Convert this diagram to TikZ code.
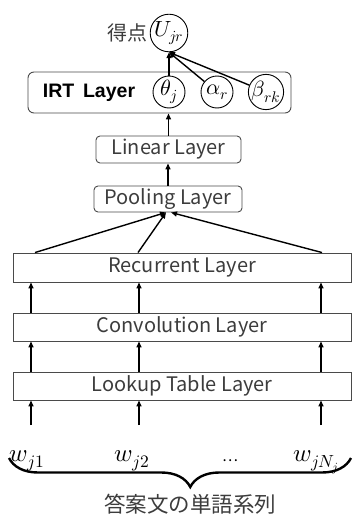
\documentclass[tikz,border=0pt]{standalone}
\usepackage{fontspec}
\usepackage{unicode-math}
\setmathfont{Latin Modern Math}
\newfontfamily\jpfont{Noto Sans CJK JP}
\newfontfamily\irtfont{Liberation Sans}
\usetikzlibrary{arrows.meta,decorations.pathreplacing}
\definecolor{txtgray}{HTML}{3C3C3C}
\definecolor{boxgray}{HTML}{4A4A4A}
\tikzset{
  layerbox/.style={draw=boxgray, line width=0.9pt, inner sep=0pt,
    font=\jpfont\fontsize{20}{24}\selectfont, text=txtgray},
  roundbox/.style={layerbox, rounded corners=4pt},
  varnode/.style={circle, draw=black, line width=0.9pt, minimum size=32pt,
    inner sep=0pt, font=\fontsize{22}{26}\selectfont},
  wordnode/.style={anchor=base, inner sep=0pt, font=\fontsize{25}{30}\selectfont},
  arr/.style={-{Triangle[length=6pt,width=5pt]}, line width=1.4pt},
}
\begin{document}
\begin{tikzpicture}[x=1pt,y=-1pt]
\useasboundingbox (0,0) rectangle (353,514);

% IRT layer and score
\node[roundbox, rounded corners=6pt, minimum width=263pt, minimum height=41pt] (irt) at (159.5,92.5) {};
\node[inner sep=0pt, font=\irtfont\bfseries\fontsize{19.5}{24}\selectfont] (irtlabel) at (89,93) {IRT\hspace{0.45em}Layer};
\node[varnode] (theta) at (169,92) {$\theta_j$};
\node[varnode] (alpha) at (217,92) {$\alpha_r$};
\node[varnode] (beta) at (266,92) {$\beta_{rk}$};
\node[varnode] (U) at (169,33) {$U_{jr}$};
\node[inner sep=0pt, font=\jpfont\fontsize{20}{24}\selectfont, text=txtgray] (score) at (127,33) {得点};

% network layers
\node[roundbox, minimum width=145pt, minimum height=27pt] (lin) at (168.5,149.5) {Linear Layer};
\node[roundbox, minimum width=148pt, minimum height=26pt] (pool) at (168,199) {Pooling Layer};
\node[layerbox, minimum width=338pt, minimum height=29pt] (rec) at (182,267.5) {Recurrent Layer};
\node[layerbox, minimum width=338pt, minimum height=28pt] (conv) at (182,327) {Convolution Layer};
\node[layerbox, minimum width=338pt, minimum height=28pt] (look) at (182,386) {Lookup Table Layer};

% word sequence
\node[wordnode] (w1) at (27,461) {$w_{j1}$};
\node[wordnode] (w2) at (132,461) {$w_{j2}$};
\node[wordnode, font=\jpfont\fontsize{15}{18}\selectfont] (wdots) at (230,461) {…};
\node[wordnode] (wn) at (316,461) {$w_{jN_j}$};
\node[inner sep=0pt, font=\jpfont\fontsize{21.5}{24}\selectfont, text=txtgray] (seq) at (190,504) {答案文の単語系列};

% column positions of the vertical connectors
\coordinate (c1) at (31,0);
\coordinate (c2) at (139,0);
\coordinate (c3) at (321,0);
\coordinate (r1) at (35,0);
\coordinate (r2) at (138,0);
\coordinate (r3) at (322,0);
\coordinate (wtop) at (0,425);

% connectors
\foreach \c in {c1,c2,c3} {
  \draw[arr] (\c |- wtop) -- (look.south -| \c);
  \draw[arr] (look.north -| \c) -- (conv.south -| \c);
  \draw[arr] (conv.north -| \c) -- (rec.south -| \c);
}
\draw[arr] (rec.north -| r1) -- ([xshift=-2pt]pool.south);
\draw[arr] (rec.north -| r2) -- ([xshift=-2pt]pool.south);
\draw[arr] (rec.north -| r3) -- ([xshift=3pt]pool.south);
\draw[arr] (pool.north) -- (pool.north |- lin.south);
\draw[arr] (lin.north) -- (lin.north |- irt.south);
\draw[arr] (theta) -- (U.south);
\draw[arr] (alpha) -- (U.south);
\draw[arr] (beta) -- (U.south);

% brace under the words
\coordinate (bl) at (9,458);
\coordinate (br) at (351,458);
\draw[decorate, decoration={brace, mirror, amplitude=29pt, aspect=0.53}, line width=2.4pt] (bl) -- (br);
\end{tikzpicture}
\end{document}
